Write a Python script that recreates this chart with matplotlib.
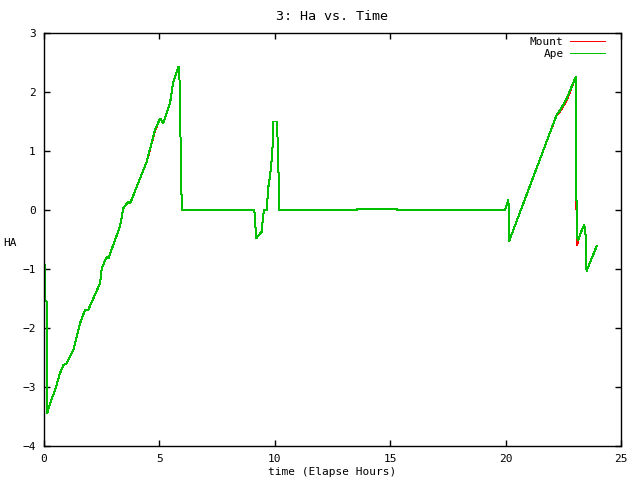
from matplotlib import pyplot as plt

# Elapsed hours and hour angle
HOURS = [0.065, 0.065, 0.11, 0.11, 0.14, 0.26, 0.48, 0.69, 0.84, 0.98, 1.27, 1.56, 1.78,
         1.92, 2.43, 2.50, 2.72, 2.79, 3.29, 3.44, 3.65, 3.73, 4.45, 4.81, 5.03,
         5.17, 5.46, 5.60, 5.82, 5.86, 5.89, 5.94, 5.97, 9.11, 9.14, 9.19, 9.43,
         9.50, 9.55, 9.65, 9.72, 9.79, 9.87, 9.94, 9.94, 10.11, 10.12, 10.18,
         10.19, 13.55, 13.57, 15.28, 15.30, 19.97, 20.12, 20.15, 20.16, 22.21,
         22.36, 22.65, 23.01, 23.04, 23.04, 23.07, 23.09, 23.15, 23.22, 23.37,
         23.41, 23.47, 23.48, 23.51, 23.95]
APE_HA = [-0.93, -1.55, -1.55, -2.83, -3.44, -3.28, -3.05, -2.77, -2.63, -2.60, -2.37,
          -1.92, -1.69, -1.69, -1.24, -0.99, -0.79, -0.82, -0.28, 0.03, 0.14, 0.11,
          0.82, 1.36, 1.55, 1.47, 1.81, 2.17, 2.43, 2.43, 1.81, 0.63, 0.0, 0.0,
          -0.13, -0.48, -0.37, -0.08, 0.0, 0.0, 0.39, 0.56, 0.88, 1.30, 1.50, 1.50,
          1.13, 0.39, 0.0, 0.0, 0.02, 0.02, 0.0, 0.0, 0.17, -0.15, -0.52, 1.61,
          1.69, 1.89, 2.23, 2.26, 1.58, 0.23, -0.45, -0.51, -0.42, -0.28, -0.25,
          -0.45, -0.85, -1.03, -0.61]
MOUNT_HA = [-0.93, -1.55, -1.55, -2.83, -3.44, -3.28, -3.05, -2.77, -2.63, -2.60, -2.37,
            -1.92, -1.69, -1.69, -1.24, -0.99, -0.79, -0.82, -0.28, 0.03, 0.14, 0.11,
            0.82, 1.34, 1.55, 1.47, 1.81, 2.17, 2.43, 2.43, 1.81, 0.63, 0.0, 0.0,
            -0.13, -0.48, -0.37, -0.08, 0.0, 0.0, 0.39, 0.56, 0.88, 1.30, 1.50, 1.50,
            1.13, 0.39, 0.0, 0.0, 0.02, 0.02, 0.0, 0.0, 0.17, -0.15, -0.52, 1.61,
            1.67, 1.86, 2.23, 2.26, 1.58, 0.08, -0.60, -0.51, -0.42, -0.28, -0.25,
            -0.45, -0.85, -1.03, -0.61]

X_TICKS = [0, 5, 10, 15, 20, 25]
Y_TICKS = [-4, -3, -2, -1, 0, 1, 2, 3]

plt.rcParams['font.family'] = ['DejaVu Sans Mono']
plt.rcParams['font.size'] = 8

fig = plt.figure(figsize=(6.4, 4.8), dpi=100)
ax = fig.add_axes([44/640, 1 - 446/480, 577/640, 413/480])

# Mount drawn first so the Ape line sits on top like gnuplot does
ax.plot(HOURS, MOUNT_HA, color="#ff0000", linewidth=0.72, label="Mount", antialiased=False)
ax.plot(HOURS, APE_HA, color="#00c000", linewidth=0.72, label="Ape", antialiased=False)

ax.set_xlim(0, 25)
ax.set_ylim(-4, 3)
ax.set_xticks(X_TICKS)
ax.set_yticks(Y_TICKS)
ax.tick_params(direction="in", length=4, width=1, top=True, right=True, pad=6)
for spine in ax.spines.values():
    spine.set_linewidth(1.0)

ax.set_title("3: Ha vs. Time", pad=9)
ax.set_xlabel("time (Elapse Hours)", va="center")
ax.xaxis.set_label_coords(0.5, -26/413)
ax.set_ylabel("HA", rotation=0, va="center")
ax.yaxis.set_label_coords(-34/577, 203/413)

ax.legend(loc="upper right", bbox_to_anchor=((607 - 44)/577, 1 - 2/413), frameon=False,
          markerfirst=False, handlelength=3.1, handletextpad=0.6, borderaxespad=0,
          borderpad=0.2, labelspacing=0.15)

fig.savefig("out.png", dpi=100)
